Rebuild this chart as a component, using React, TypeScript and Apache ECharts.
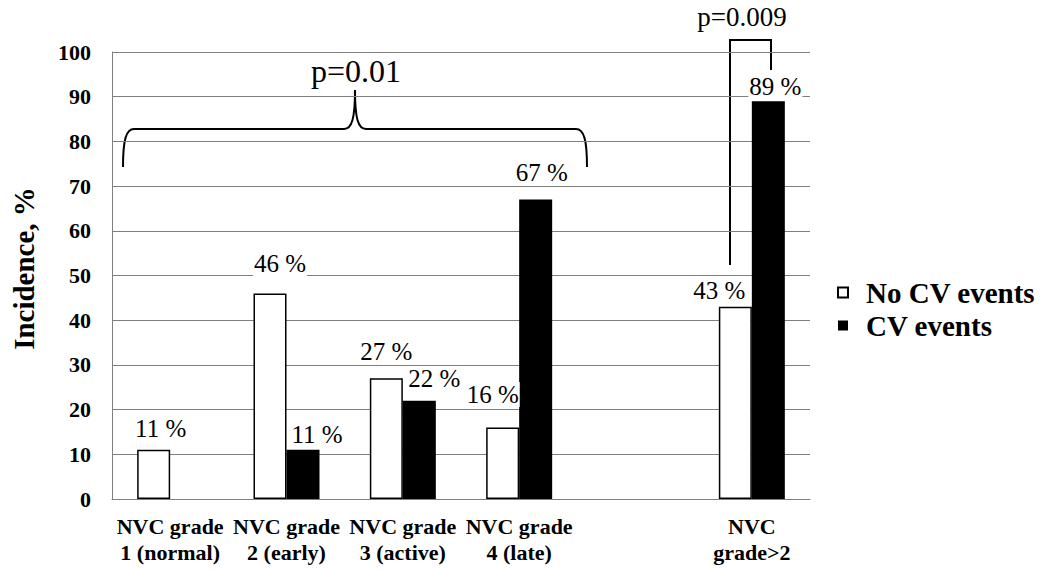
import React, { useEffect, useRef } from "react";
import * as echarts from "echarts";

const categories = [
  "NVC grade\n1 (normal)",
  "NVC grade\n2 (early)",
  "NVC grade\n3 (active)",
  "NVC grade\n4 (late)",
  "",
  "NVC\ngrade>2",
];
const noCvValues: (number | null)[] = [11, 46, 27, 16, null, 43];
const cvValues: (number | null)[] = [null, 11, 22, 67, null, 89];
const yTicks = [0, 100, 10]; // min, max, interval

// label nudges (styling only)
const noCvLabelOffsets = [[7, -3.5], [10, -12.5], [0, -9.5], [-10, -15.5], [0, 0], [-16, 1.5]];
const cvLabelOffsets = [[0, 0], [14, 2.5], [15, -4.5], [6, -9.5], [0, 0], [7, 2.5]];

const SERIF = "Liberation Serif";

export default function App() {
  const ref = useRef<HTMLDivElement>(null);
  useEffect(() => {
    if (!ref.current) return;
    const chart = echarts.init(ref.current, null, { renderer: "svg" });
    const mk = (vals: (number | null)[], offs: number[][]) =>
      vals.map((v, i) =>
        v == null ? "-" : { value: v, label: { offset: offs[i] } }
      );
    const labelStyle = {
      show: true,
      position: "top",
      formatter: "{c} %",
      fontFamily: SERIF,
      fontSize: 25,
      color: "#000",
      backgroundColor: "#fff",
      padding: [0, 1],
    };
    const black = "#000";
    const lw = 2;
    chart.setOption({
      animation: false,
      backgroundColor: "#fff",
      textStyle: { fontFamily: SERIF },
      grid: { left: 112, right: 241, top: 52, bottom: 72, containLabel: false },
      legend: {
        orient: "vertical",
        left: 832,
        top: 273,
        itemWidth: 10,
        itemHeight: 10,
        itemGap: 4,
        icon: "rect",
        textStyle: {
          fontFamily: SERIF,
          fontWeight: "bold",
          fontSize: 29,
          color: "#000",
          padding: [0, 0, 0, 13],
        },
        data: ["No CV events", "CV events"],
      },
      xAxis: {
        type: "category",
        data: categories,
        axisTick: { show: false },
        axisLine: { show: true, lineStyle: { color: "#7f7f7f", width: 1 } },
        axisLabel: {
          interval: 0,
          fontFamily: SERIF,
          fontWeight: "bold",
          fontSize: 22,
          lineHeight: 26,
          color: "#000",
          margin: 14,
        },
      },
      yAxis: {
        type: "value",
        min: yTicks[0],
        max: yTicks[1],
        interval: yTicks[2],
        name: "Incidence, %",
        nameLocation: "middle",
        nameGap: 74,
        nameTextStyle: {
          fontFamily: SERIF,
          fontWeight: "bold",
          fontSize: 29,
          color: "#000",
          padding: [0, 0, 0, 14],
        },
        axisLine: { show: true, lineStyle: { color: "#7f7f7f", width: 1 } },
        axisTick: { show: false },
        splitLine: { show: true, lineStyle: { color: "#7f7f7f", width: 1 } },
        axisLabel: {
          fontFamily: SERIF,
          fontWeight: "bold",
          fontSize: 22,
          color: "#000",
          margin: 21,
        },
      },
      series: [
        {
          name: "No CV events",
          type: "bar",
          barWidth: 33,
          barGap: "0%",
          itemStyle: { color: "#fff", borderColor: "#000", borderWidth: 1.5 },
          label: labelStyle,
          data: mk(noCvValues, noCvLabelOffsets),
        },
        {
          name: "CV events",
          type: "bar",
          barWidth: 33,
          barGap: "0%",
          itemStyle: { color: "#000" },
          label: labelStyle,
          data: mk(cvValues, cvLabelOffsets),
        },
      ],
      graphic: [
        { type: "bezierCurve", shape: { x1: 123, y1: 167, cpx1: 123, cpy1: 140, cpx2: 126, cpy2: 129, x2: 134, y2: 129 }, style: { stroke: black, lineWidth: lw, fill: null } },
        { type: "line", shape: { x1: 134, y1: 129, x2: 344, y2: 129 }, style: { stroke: black, lineWidth: lw } },
        { type: "bezierCurve", shape: { x1: 344, y1: 129, cpx1: 352, cpy1: 129, cpx2: 355, cpy2: 118, x2: 355, y2: 90 }, style: { stroke: black, lineWidth: lw, fill: null } },
        { type: "bezierCurve", shape: { x1: 355, y1: 90, cpx1: 355, cpy1: 118, cpx2: 358, cpy2: 129, x2: 366, y2: 129 }, style: { stroke: black, lineWidth: lw, fill: null } },
        { type: "line", shape: { x1: 366, y1: 129, x2: 576, y2: 129 }, style: { stroke: black, lineWidth: lw } },
        { type: "bezierCurve", shape: { x1: 576, y1: 129, cpx1: 584, cpy1: 129, cpx2: 587, cpy2: 140, x2: 587, y2: 167 }, style: { stroke: black, lineWidth: lw, fill: null } },
        { type: "polyline", shape: { points: [[730, 265], [730, 40], [771, 40], [771, 70]] }, style: { stroke: black, lineWidth: lw, fill: null } },
        { type: "text", x: 356, y: 71, style: { text: "p=0.01", fontFamily: SERIF, fontSize: 32, fill: black, textAlign: "center", textVerticalAlign: "middle" } },
        { type: "text", x: 742, y: 17, style: { text: "p=0.009", fontFamily: SERIF, fontSize: 27, fill: black, textAlign: "center", textVerticalAlign: "middle" } },
      ],
    });
    return () => chart.dispose();
  }, []);
  return (
    <div
      ref={ref}
      style={{ position: "absolute", left: 0, top: 0, width: 1051, height: 571 }}
    />
  );
}
